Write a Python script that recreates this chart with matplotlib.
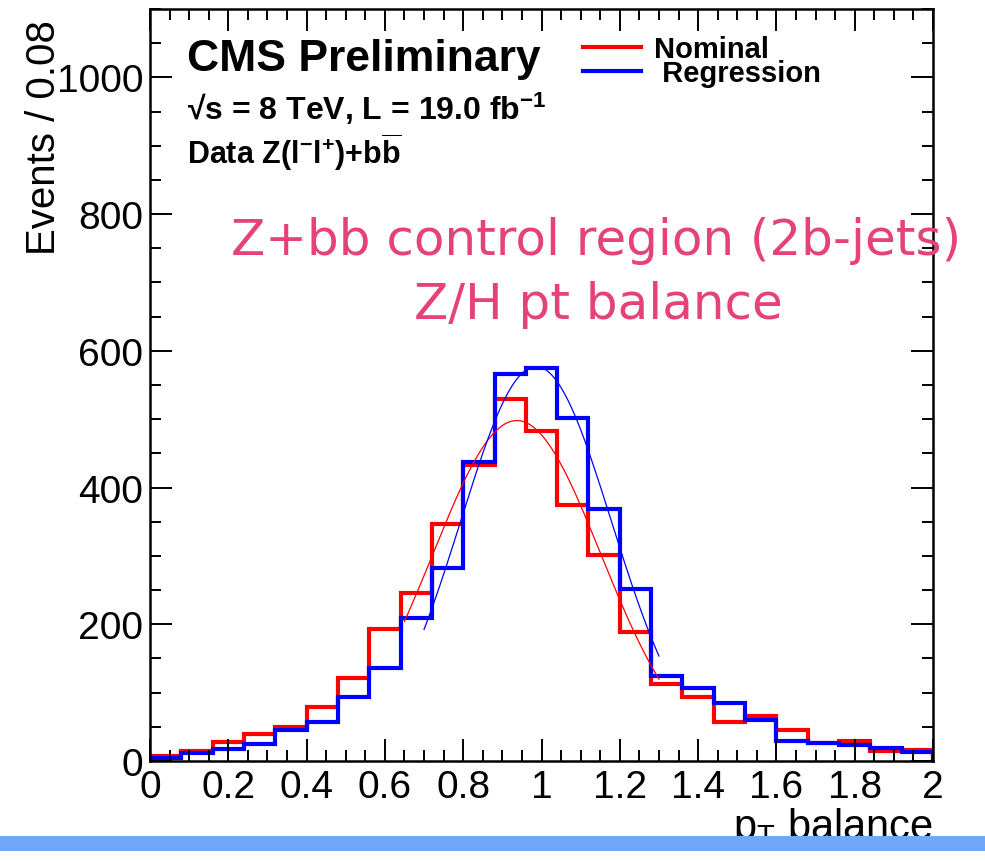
import numpy as np
import matplotlib
matplotlib.use("Agg")
import matplotlib.pyplot as plt
from matplotlib.ticker import MultipleLocator, FixedLocator, FixedFormatter
from matplotlib.patches import Rectangle
from matplotlib.lines import Line2D

plt.rcParams["font.family"] = ["Liberation Sans", "DejaVu Sans"]
plt.rcParams["mathtext.fontset"] = "custom"
plt.rcParams["mathtext.rm"] = "Liberation Sans"
plt.rcParams["mathtext.bf"] = "Liberation Sans:bold"
plt.rcParams["mathtext.it"] = "Liberation Sans:italic"

# histogram: 25 bins of width 0.08 from 0 to 2
bin_width = 0.08
n_bins = 25
nominal = [8, 14, 28, 39, 50, 79, 122, 193, 246, 347, 433, 529, 483,
           375, 301, 188, 112, 94, 57, 66, 45, 27, 29, 15, 16]
regression = [4, 12, 17, 25, 45, 57, 93, 136, 209, 282, 437, 566, 575,
              502, 368, 252, 124, 107, 85, 60, 29, 27, 24, 19, 13]

# gaussian fits (amplitude, mean, sigma, range)
fit_nominal = (498, 0.937, 0.215, 0.65, 1.30)
fit_regression = (577, 0.986, 0.193, 0.70, 1.30)

xtick_vals = [0, 0.2, 0.4, 0.6, 0.8, 1.0, 1.2, 1.4, 1.6, 1.8, 2.0]
xtick_labels = ["0", "0.2", "0.4", "0.6", "0.8", "1", "1.2", "1.4", "1.6", "1.8", "2"]
ytick_vals = [0, 200, 400, 600, 800, 1000]

edges = np.arange(n_bins + 1) * bin_width

fig = plt.figure(figsize=(9.85, 8.62), dpi=100)
# light blue band from the slide behind the plot
fig.patches.append(Rectangle((0, 1 - 852 / 862), 1, 15 / 862, transform=fig.transFigure,
                             facecolor="#72a6f6", edgecolor="none", zorder=0))
ax = fig.add_axes([150 / 985, 1 - 762 / 862, 783 / 985, 752 / 862])

ax.stairs(nominal, edges, color="red", lw=3)
ax.stairs(regression, edges, color="blue", lw=3)

for (a, m, s, lo, hi), c in [(fit_nominal, "red"), (fit_regression, "blue")]:
    xx = np.linspace(lo, hi, 300)
    ax.plot(xx, a * np.exp(-0.5 * ((xx - m) / s) ** 2), color=c, lw=0.9)

ax.set_xlim(0, 2)
ax.set_ylim(0, 1100)
ax.xaxis.set_major_locator(FixedLocator(xtick_vals))
ax.xaxis.set_major_formatter(FixedFormatter(xtick_labels))
ax.xaxis.set_minor_locator(MultipleLocator(0.05))
ax.yaxis.set_major_locator(FixedLocator(ytick_vals))
ax.yaxis.set_minor_locator(MultipleLocator(50))
ax.tick_params(which="both", direction="in", top=True, right=True, width=1.4)
ax.tick_params(which="major", length=16, labelsize=28)
ax.tick_params(which="minor", length=8)
ax.tick_params(axis="x", which="major", pad=6)
ax.tick_params(axis="y", which="major", pad=5)
for sp in ax.spines.values():
    sp.set_linewidth(1.8)

ax.set_ylabel("Events / 0.08", fontsize=29)
ax.yaxis.set_label_coords(-0.111, 0.83)
ax.set_xlabel(r"p$_{\mathrm{T}}$ balance", fontsize=30, ha="right", x=1.0, labelpad=0)

ax.text(0.047, 0.962, "CMS Preliminary", transform=ax.transAxes, fontsize=32,
        fontweight="bold", va="top")
ax.text(0.047, 0.893, r"√s = 8 TeV, L = 19.0 fb$^{\mathbf{-1}}$", transform=ax.transAxes,
        fontsize=23, fontweight="bold", va="top")
ax.text(0.047, 0.838, r"Data Z(l$^{\mathbf{-}}$l$^{\mathbf{+}}$)+b$\mathbf{\overline{b}}$",
        transform=ax.transAxes, fontsize=22, fontweight="bold", va="top")

handles = [Line2D([], [], color="red", lw=3), Line2D([], [], color="blue", lw=3)]
ax.legend(handles, ["Nominal", " Regression"], loc="upper left",
          bbox_to_anchor=(583 / 985, 1 - 36 / 862), bbox_transform=fig.transFigure,
          frameon=False, borderpad=0, borderaxespad=0, handlelength=2.0,
          handletextpad=0.45, labelspacing=-0.12,
          prop={"weight": "bold", "size": 21})

pink = "#e6427a"
ax.text(0.57, 0.693, "Z+bb control region (2b-jets)", transform=ax.transAxes,
        fontsize=36, color=pink, ha="center", va="center", family=["DejaVu Sans"])
ax.text(0.572, 0.608, "Z/H pt balance", transform=ax.transAxes,
        fontsize=36, color=pink, ha="center", va="center", family=["DejaVu Sans"])

fig.savefig("out.png", dpi=100)
